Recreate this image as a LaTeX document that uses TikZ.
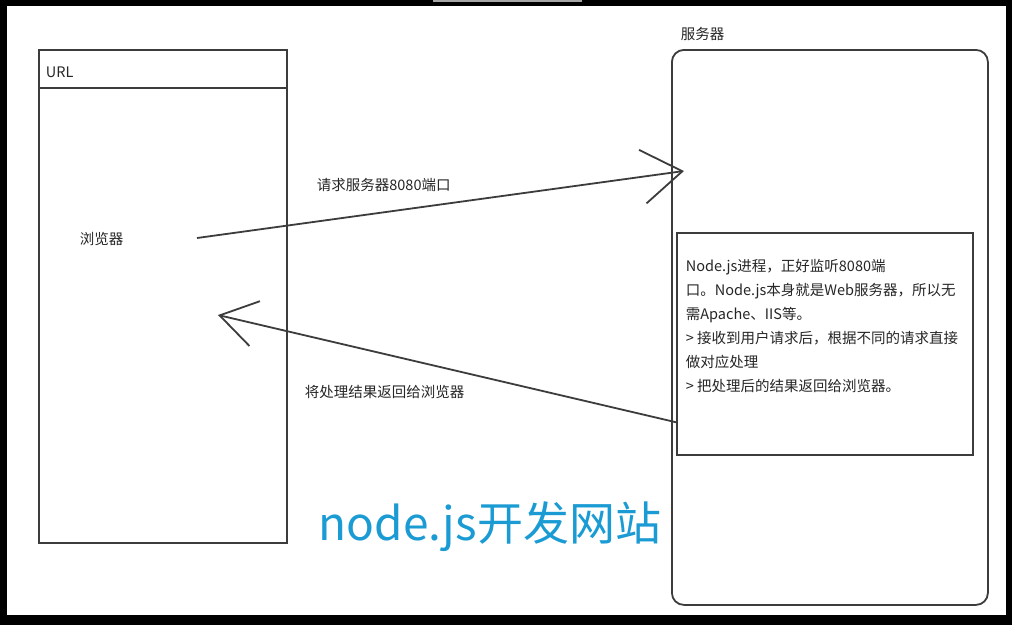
\documentclass[tikz,border=0pt]{standalone}
\usepackage{fontspec}
\setmainfont{Noto Sans CJK SC}
\usetikzlibrary{arrows.meta}
\usetikzlibrary{calc}
\definecolor{linegray}{HTML}{3C3C3C}
\definecolor{titleblue}{HTML}{1A9BD3}

\begin{document}
\begin{tikzpicture}[x=1pt, y=-1pt, line width=1.8pt, every node/.style={inner sep=0pt, text=black!85, font=\fontsize{14.5}{24}\selectfont}]
	%Frame
	\fill[black] (0,0) rectangle (1012,625);
	\fill[white] (7,6) rectangle (1006,615);
	\fill[gray!70] (433,0) rectangle (582,2);
	%Browser
	\node [draw=linegray, minimum width=248pt, minimum height=493pt, anchor=north west] (browser) at (38,49) {};
	\coordinate (urlline) at (0,88);
	\draw[linegray] (browser.west |- urlline) -- (browser.east |- urlline);
	\node [anchor=base west] (url) at (45,77) {URL};
	\node [anchor=base west] (browserlabel) at (79,244) {浏览器};
	%Server
	\node [draw=linegray, rounded corners=12pt, minimum width=316pt, minimum height=555pt, anchor=north west] (server) at (671,49) {};
	\node [anchor=base west] (serverlabel) at (680,39) {服务器};
	\node [draw=linegray, minimum width=296pt, minimum height=222pt, anchor=north west] (proc) at (676,232) {};
	\node [anchor=north west, align=left] (proctext) at (685,258) {Node.js进程，正好监听8080端\\口。Node.js本身就是Web服务器，所以无\\需Apache、IIS等。\\> 接收到用户请求后，根据不同的请求直接\\做对应处理\\> 把处理后的结果返回给浏览器。};
	%Labels
	\node [anchor=base west] (reqlabel) at (316,190) {请求服务器8080端口};
	\node [anchor=base west] (reslabel) at (304,397) {将处理结果返回给浏览器};
	%Arrows
	\coordinate (reqstart) at (197,238);
	\coordinate (reqend) at (684,171);
	\coordinate (resend) at (218,315);
	\draw[linegray, -{Straight Barb[length=40pt, width=54pt]}] (reqstart) -- (reqend);
	\draw[linegray, -{Straight Barb[length=36pt, width=46pt]}] ($(proc.south west)!0.15!(proc.north west)$) -- (resend);
	%Title
	\node [anchor=base west, text=titleblue, font=\fontsize{46}{46}\selectfont] (title) at (318,540) {node.js开发网站};
\end{tikzpicture}
\end{document}
